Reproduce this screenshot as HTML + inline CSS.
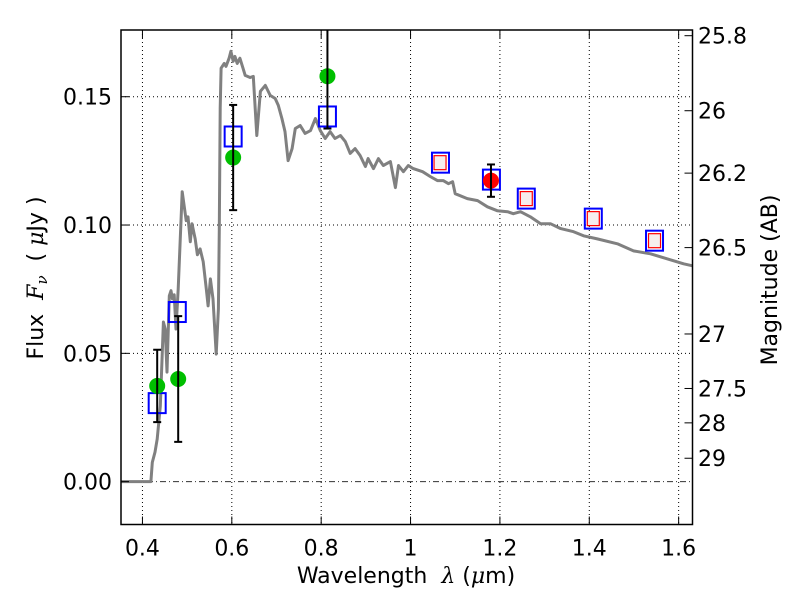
<!DOCTYPE html>
<html><head><meta charset="utf-8"><style>
html,body{margin:0;padding:0;background:#fff;}
svg text{font-family:"DejaVu Sans","Liberation Sans",sans-serif;fill:#000;white-space:pre;}
</style></head><body>
<svg id="chart" width="800" height="600" xmlns="http://www.w3.org/2000/svg">
<rect width="800" height="600" fill="#fff"/>
<g id="grid"></g>
<g id="marks"></g>
<g id="axes"></g>
<text x="406" y="583" font-size="22" text-anchor="middle">Wavelength  <tspan font-family="DejaVu Serif, serif" font-style="italic">λ</tspan> (<tspan font-family="DejaVu Serif, serif" font-style="italic">μ</tspan>m)</text>
<text transform="translate(43,278) rotate(-90)" font-size="22" text-anchor="middle">Flux  <tspan font-family="DejaVu Serif, serif" font-style="italic">F<tspan font-size="15" dy="4">ν</tspan></tspan><tspan dy="-4">  ( </tspan><tspan font-family="DejaVu Serif, serif" font-style="italic">μ</tspan>Jy )</text>
<text transform="translate(777,280) rotate(-90)" font-size="22" text-anchor="middle">Magnitude (AB)</text>
</svg>
<script>
const xTicks=[0.4,0.6,0.8,1.0,1.2,1.4,1.6];
const xTickLabels=["0.4","0.6","0.8","1","1.2","1.4","1.6"];
const yTicks=[0,0.05,0.10,0.15];
const yTickLabels=["0.00","0.05","0.10","0.15"];
const magTicks=[25.8,26,26.2,26.5,27,27.5,28,29];
const magTickLabels=["25.8","26","26.2","26.5","27","27.5","28","29"];
const sedWave=[0.352,0.419,0.422,0.428,0.433,0.440,0.447,0.451,0.455,0.460,0.464,0.467,0.471,0.475,0.480,0.489,0.498,0.502,0.507,0.511,0.518,0.523,0.529,0.536,0.543,0.547,0.552,0.558,0.565,0.570,0.572,0.574,0.576,0.583,0.587,0.594,0.598,0.603,0.607,0.612,0.618,0.625,0.630,0.641,0.648,0.656,0.664,0.675,0.686,0.697,0.704,0.712,0.719,0.726,0.735,0.742,0.753,0.764,0.776,0.787,0.798,0.809,0.820,0.831,0.843,0.854,0.865,0.876,0.887,0.899,0.905,0.917,0.928,0.939,0.955,0.966,0.973,0.984,0.995,1.006,1.027,1.044,1.060,1.073,1.085,1.094,1.100,1.127,1.150,1.172,1.194,1.217,1.230,1.246,1.268,1.291,1.313,1.336,1.365,1.387,1.418,1.463,1.499,1.537,1.575,1.611,1.631];
const sedFlux=[0,0,0.0075,0.0115,0.0166,0.0294,0.0622,0.0595,0.0427,0.0724,0.0744,0.0712,0.0728,0.0595,0.0751,0.1130,0.1017,0.1032,0.0935,0.1005,0.0946,0.0884,0.0907,0.0857,0.0751,0.0685,0.0790,0.0712,0.0497,0.0673,0.0986,0.1455,0.1611,0.1630,0.1618,0.1650,0.1677,0.1638,0.1657,0.1630,0.1650,0.1611,0.1583,0.1575,0.1579,0.1349,0.1521,0.1544,0.1505,0.1493,0.1466,0.1415,0.1364,0.1251,0.1298,0.1376,0.1388,0.1357,0.1368,0.1415,0.1368,0.1337,0.1364,0.1337,0.1349,0.1325,0.1279,0.1298,0.1271,0.1228,0.1259,0.1220,0.1259,0.1232,0.1247,0.1146,0.1232,0.1208,0.1232,0.1220,0.1208,0.1189,0.1173,0.1173,0.1161,0.1169,0.1122,0.1103,0.1095,0.1071,0.1056,0.1052,0.1044,0.1052,0.1032,0.1005,0.1005,0.0986,0.0974,0.0958,0.0946,0.0927,0.0899,0.0888,0.0868,0.0849,0.0841];
const modelWave=[0.433,0.478,0.603,0.814,1.067,1.181,1.259,1.409,1.546];
const modelFlux=[0.0306,0.0661,0.1345,0.1423,0.1243,0.1177,0.1103,0.1025,0.0939];
const nirWave=[1.066,1.259,1.409,1.546];
const nirFlux=[0.1243,0.1103,0.1025,0.0939];
const optWave=[0.433,0.480,0.603,0.814];
const optFlux=[0.0373,0.0400,0.1263,0.158];
const optErr=[0.0141,0.0245,0.0205,0.0204];
const redWave=[1.18];
const redFlux=[0.1173];
const redErr=[0.0063];

const NS="http://www.w3.org/2000/svg";
const L=121,R=692.5,T=30,B=524.5;
const X0=0.352,X1=1.631,Y0=-0.0167,Y1=0.176;
function sx(v){return L+(v-X0)/(X1-X0)*(R-L);}
function sy(v){return B-(v-Y0)/(Y1-Y0)*(B-T);}
function magY(m){return sy(Math.pow(10,(23.9-m)/2.5));}
function mk(tag,attrs,parent){const e=document.createElementNS(NS,tag);for(const k in attrs)e.setAttribute(k,attrs[k]);parent.appendChild(e);return e;}
const grid=document.getElementById('grid'),marks=document.getElementById('marks'),axes=document.getElementById('axes');

xTicks.forEach((v,i)=>{
  const x=sx(v);
  const g=mk('line',{x1:x,x2:x,y1:T,y2:B,stroke:'#000','stroke-width':1,'stroke-dasharray':'1,3'},grid);
  
  
  mk('line',{x1:x,x2:x,y1:B,y2:B-8,stroke:'#000','stroke-width':1},axes);
  mk('line',{x1:x,x2:x,y1:T,y2:T+8,stroke:'#000','stroke-width':1},axes);
  const t=mk('text',{x:x,y:B+31,'font-size':22,'text-anchor':'middle'},axes);
  t.textContent=xTickLabels[i];
  
  
});
yTicks.forEach((v,i)=>{
  const y=sy(v);
  const g=mk('line',{x1:L,x2:R,y1:y,y2:y,stroke:v===0?'#333':'#000','stroke-width':1,'stroke-dasharray':v===0?'6,3,1,3':'1,3'},grid);
  
  
  mk('line',{x1:L,x2:L+8,y1:y,y2:y,stroke:'#000','stroke-width':1},axes);
  const t=mk('text',{x:112,y:y+8,'font-size':22,'text-anchor':'end'},axes);
  t.textContent=yTickLabels[i];
  
  
});
magTicks.forEach((m,i)=>{
  const y=magY(m);
  mk('line',{x1:R-8,x2:R,y1:y,y2:y,stroke:'#000','stroke-width':1},axes);
  const t=mk('text',{x:698,y:y+8,'font-size':22},axes);
  t.textContent=magTickLabels[i];
  
  
});
const frame=mk('rect',{x:L,y:T,width:R-L,height:B-T,fill:'none',stroke:'#000','stroke-width':1.5},axes);



const pts=sedWave.map((w,i)=>sx(w).toFixed(1)+','+sy(sedFlux[i]).toFixed(1)).join(' ');
const sed=mk('polyline',{points:pts,fill:'none',stroke:'#808080','stroke-width':3,'stroke-linejoin':'round'},marks);



modelWave.forEach((w,i)=>{
  const s=mk('rect',{x:sx(w)-8.5,y:sy(modelFlux[i])-10,width:17,height:20,fill:'none',stroke:'#0000ff','stroke-width':2},marks);
  
  
});
nirWave.forEach((w,i)=>{
  const s=mk('rect',{x:sx(w)-6,y:sy(nirFlux[i])-7,width:12,height:14,fill:'#f6eeee',stroke:'#ff0000','stroke-width':1.2},marks);
  
  
});
function errbar(w,f,e,name){
  const x=sx(w),y1=sy(f+e),y2=sy(f-e);
  const g=mk('g',{},marks);
  
  
  mk('line',{x1:x,x2:x,y1:Math.max(y1,T),y2:y2,stroke:'#000','stroke-width':2},g);
  if(y1>=T) mk('line',{x1:x-4,x2:x+4,y1:y1,y2:y1,stroke:'#000','stroke-width':2},g);
  mk('line',{x1:x-4,x2:x+4,y1:y2,y2:y2,stroke:'#000','stroke-width':2},g);
}
optWave.forEach((w,i)=>{
  const c=mk('circle',{cx:sx(w),cy:sy(optFlux[i]),r:8,fill:'#00bf00'},marks);
  
  
});
optWave.forEach((w,i)=>errbar(w,optFlux[i],optErr[i],'observed-error-bar'));
redWave.forEach((w,i)=>{
  const c=mk('circle',{cx:sx(w),cy:sy(redFlux[i]),r:8,fill:'#ff0000'},marks);
  
  
  errbar(w,redFlux[i],redErr[i],'nir-error-bar');
});
</script>
</body></html>
